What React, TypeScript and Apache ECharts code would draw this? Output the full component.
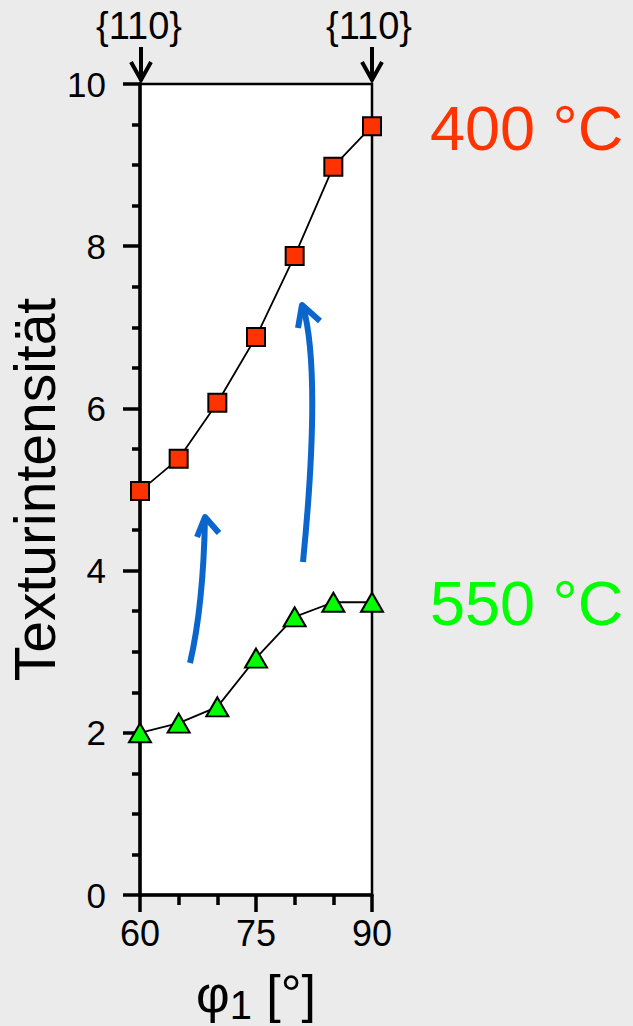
import React, { useEffect, useRef } from "react";
import * as echarts from "echarts";

const phi = [60, 65, 70, 75, 80, 85, 90];
const t400 = [4.98, 5.38, 6.07, 6.88, 7.88, 8.98, 9.48];
const t550 = [2.0, 2.12, 2.32, 2.92, 3.43, 3.61, 3.61];
const xLabels = [60, 75, 90];
const yMax = 10;

export default function App() {
  const ref = useRef<HTMLDivElement>(null);
  useEffect(() => {
    const chart = echarts.init(ref.current!, null, { renderer: "svg" });
    const font = "Liberation Sans, Arial, sans-serif";
    const blue = "#0a66cc";
    chart.setOption({
      animation: false,
      backgroundColor: "#ebebeb",
      textStyle: { fontFamily: font },
      grid: {
        left: 140, right: 261, top: 84, bottom: 131,
        outerBoundsMode: "none", containLabel: false,
        show: true, backgroundColor: "#ffffff", borderColor: "#000", borderWidth: 2.5,
      },
      xAxis: {
        type: "value", min: 60, max: 90, interval: 15,
        name: "φ{sub|1} [°]",
        nameLocation: "middle", nameGap: 68,
        nameTextStyle: {
          fontSize: 52, color: "#000", fontFamily: font,
          rich: { sub: { fontSize: 40, verticalAlign: "bottom", padding: [22, 0, 0, 0], fontFamily: font } },
        },
        axisLine: { show: true, onZero: false, lineStyle: { color: "#000", width: 3.5 } },
        axisTick: { show: true, length: 17, lineStyle: { color: "#000", width: 3.5 } },
        minorTick: { show: true, splitNumber: 3, length: 10, lineStyle: { color: "#000", width: 3.5 } },
        axisLabel: {
          fontSize: 36, color: "#000", margin: 20, fontFamily: font,
          formatter: (v: number) => (xLabels.includes(v) ? String(v) : ""),
        },
        splitLine: { show: false },
      },
      yAxis: {
        type: "value", min: 0, max: yMax, interval: 2,
        name: "Texturintensität",
        nameLocation: "middle", nameGap: 72,
        nameTextStyle: { fontSize: 57, color: "#000", fontFamily: font },
        axisLine: { show: true, onZero: false, lineStyle: { color: "#000", width: 3.5 } },
        axisTick: { show: true, length: 17, lineStyle: { color: "#000", width: 3.5 } },
        minorTick: { show: true, splitNumber: 4, length: 8, lineStyle: { color: "#000", width: 3.5 } },
        axisLabel: { fontSize: 35, color: "#000", margin: 34, fontFamily: font },
        splitLine: { show: false },
      },
      series: [
        {
          type: "line", name: "400 °C",
          data: phi.map((x, i) => [x, t400[i]]),
          symbol: "rect", symbolSize: 18,
          lineStyle: { color: "#000", width: 1.8 },
          itemStyle: { color: "#ff3300", borderColor: "#000", borderWidth: 2 },
          z: 3,
        },
        {
          type: "line", name: "550 °C",
          data: phi.map((x, i) => [x, t550[i]]),
          symbol: "triangle", symbolSize: [22, 19],
          lineStyle: { color: "#000", width: 1.8 },
          itemStyle: { color: "#00ff00", borderColor: "#000", borderWidth: 2 },
          z: 3,
        },
      ],
      graphic: [
        { type: "text", left: 96, top: 7, style: { text: "{110}", fontSize: 38, fill: "#000", fontFamily: font } },
        { type: "text", left: 326, top: 7, style: { text: "{110}", fontSize: 38, fill: "#000", fontFamily: font } },
        { type: "line", shape: { x1: 141, y1: 47, x2: 141, y2: 81 }, style: { stroke: "#000", lineWidth: 4 } },
        { type: "polyline", shape: { points: [[131, 62], [141, 80], [151, 62]] }, style: { stroke: "#000", lineWidth: 4, fill: null } },
        { type: "line", shape: { x1: 372, y1: 47, x2: 372, y2: 81 }, style: { stroke: "#000", lineWidth: 4 } },
        { type: "polyline", shape: { points: [[362, 62], [372, 80], [382, 62]] }, style: { stroke: "#000", lineWidth: 4, fill: null } },
        { type: "text", left: 430, top: 96, style: { text: "400 °C", fontSize: 63, fill: "#ff3300", fontFamily: font } },
        { type: "text", left: 430, top: 571, style: { text: "550 °C", fontSize: 63, fill: "#00ff00", fontFamily: font } },
        { type: "bezierCurve", shape: { x1: 190, y1: 663, cpx1: 200, cpy1: 620, cpx2: 204, cpy2: 570, x2: 205, y2: 518 }, style: { stroke: blue, lineWidth: 6, fill: null }, z: 10 },
        { type: "polyline", shape: { points: [[197, 537], [205, 517], [219, 533]] }, style: { stroke: blue, lineWidth: 6, fill: null, lineJoin: "round" }, z: 10 },
        { type: "bezierCurve", shape: { x1: 303, y1: 562, cpx1: 312, cpy1: 470, cpx2: 318, cpy2: 360, x2: 303, y2: 306 }, style: { stroke: blue, lineWidth: 6, fill: null }, z: 10 },
        { type: "polyline", shape: { points: [[298, 328], [302, 305], [320, 321]] }, style: { stroke: blue, lineWidth: 6, fill: null, lineJoin: "round" }, z: 10 },
      ],
    });
    return () => chart.dispose();
  }, []);
  return <div ref={ref} style={{ position: "fixed", left: 0, top: 0, width: 633, height: 1026 }} />;
}
